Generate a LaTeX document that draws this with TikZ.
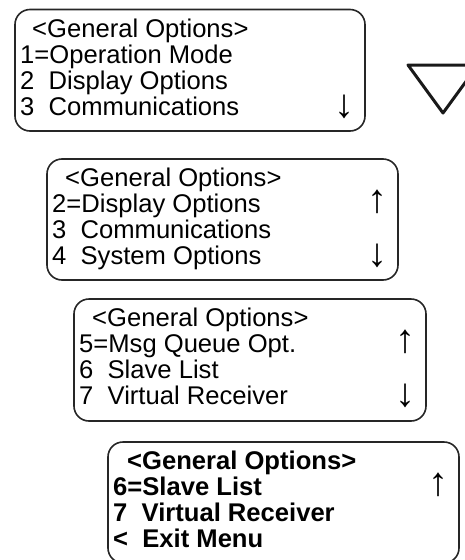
\documentclass[tikz,border=0pt]{standalone}
\usepackage{fontspec}
\setmainfont{Liberation Sans}
\begin{document}
\begin{tikzpicture}[x=1pt,y=-1pt,
  screen/.style={draw=black!85,line width=1.6pt,rounded corners=15pt},
  txt/.style={anchor=base west,inner sep=0pt,font=\fontsize{25.6}{26}\selectfont},
  btxt/.style={txt,font=\fontsize{25.6}{26}\selectfont\bfseries},
  arr/.style={anchor=base,inner sep=0pt,font=\fontsize{40}{40}\selectfont}]
\useasboundingbox (0,0) rectangle (465,560);
\clip (0,0) rectangle (465,560);
% box 1
\draw[screen] (15,9.5) rectangle (365,131);
\node[txt] (a1) at (32,37) {<General Options>};
\node[txt] (a2) at (20,63) {1=Operation Mode};
\node[txt] (a3) at (20,89) {2\ \ Display Options};
\node[txt] (a4) at (20,115) {3\ \ Communications};
\node[arr] (a5) at (344,117) {↓};
% triangle
\draw[line width=3pt,line join=round,draw=black!90] (408,65) -- (478,65) -- (443,113) -- cycle;
% box 2
\draw[screen] (47,159) rectangle (398,280);
\node[txt] (b1) at (65,186) {<General Options>};
\node[txt] (b2) at (52,212) {2=Display Options};
\node[txt] (b3) at (52,238) {3\ \ Communications};
\node[txt] (b4) at (52,264) {4\ \ System Options};
\node[arr] (b5) at (377,212) {↑};
\node[arr] (b6) at (377,266) {↓};
% box 3
\draw[screen] (74,299) rectangle (426,421);
\node[txt] (c1) at (92,326) {<General Options>};
\node[txt] (c2) at (79,352) {5=Msg Queue Opt.};
\node[txt] (c3) at (79,378) {6\ \ Slave List};
\node[txt] (c4) at (79,404) {7\ \ Virtual Receiver};
\node[arr] (c5) at (405,352) {↑};
\node[arr] (c6) at (405,406) {↓};
% box 4
\draw[screen] (108,442) rectangle (459,563);
\node[btxt] (d1) at (127,469) {<General Options>};
\node[btxt] (d2) at (113,495) {6=Slave List};
\node[btxt] (d3) at (113,521) {7\ \ Virtual Receiver};
\node[btxt] (d4) at (113,547) {<\ \ Exit Menu};
\node[arr] (d5) at (438,495) {↑};
\end{tikzpicture}
\end{document}
